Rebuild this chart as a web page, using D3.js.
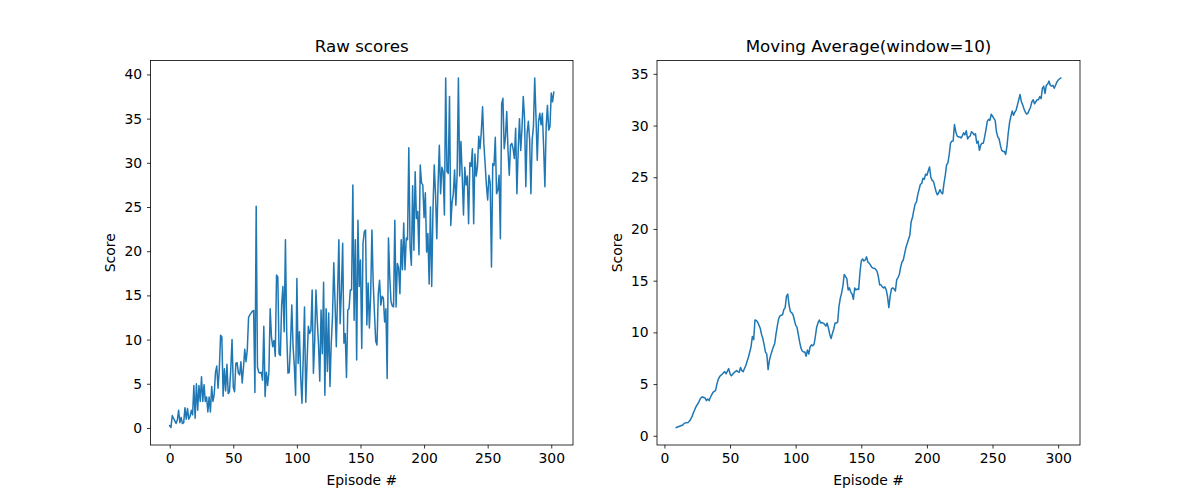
<!DOCTYPE html>
<html>
<head>
<meta charset="utf-8">
<script src="https://cdn.jsdelivr.net/npm/d3@7"></script>
<style>
  html, body { margin: 0; padding: 0; background: #fff; }
  svg { display: block; font-family: "DejaVu Sans", sans-serif; }
</style>
</head>
<body>
<svg id="fig" width="1198" height="499"></svg>
<script>
// ---- data ----
const rawStartEpisode = 0;
const rawScores = [
  0.26, 0.05, 1.4, 1.1, 0.8, 0.5, 0.9, 2.0, 0.6, 1.2,
  0.5, 0.6, 2.3, 1.0, 2.2, 1.0, 1.3, 2.0, 1.5, 4.8,
  1.1, 5.0, 2.0, 4.8, 3.0, 5.8, 3.0, 4.9, 3.0, 3.5,
  1.8, 3.5, 1.8, 4.7, 3.0, 3.8, 6.3, 7.0, 4.5, 6.6,
  10.5, 10.3, 3.6, 6.7, 4.2, 7.2, 3.9, 4.1, 6.6, 10.0,
  4.6, 4.1, 7.3, 7.4, 6.2, 6.0, 7.5, 5.1, 6.8, 8.9,
  7.5, 8.8, 12.5, 12.8, 13.0, 13.2, 13.3, 4.0, 25.1, 6.9,
  6.3, 6.2, 6.3, 5.4, 11.5, 3.55, 6.3, 4.8, 6.3, 13.5,
  10.3, 9.2, 9.9, 8.1, 17.3, 17.1, 8.4, 8.2, 13.9, 16.0,
  10.9, 21.3, 10.7, 6.2, 6.3, 9.6, 13.9, 9.2, 7.0, 3.7,
  16.9, 7.3, 10.9, 5.8, 2.8, 8.0, 13.7, 2.9, 7.5, 11.5,
  10.7, 11.0, 15.6, 6.2, 9.8, 15.6, 12.2, 9.5, 5.3, 13.35,
  8.4, 16.5, 3.7, 13.5, 6.4, 13.0, 4.7, 9.5, 12.6, 18.7,
  14.1, 9.2, 15.2, 21.3, 11.8, 15.5, 20.9, 9.6, 10.7, 5.7,
  13.35, 13.5, 15.6, 15.6, 27.5, 12.2, 21.3, 7.7, 23.5, 16.0,
  19.0, 9.0, 20.9, 22.2, 22.4, 11.65, 16.4, 11.3, 15.0, 22.4,
  16.4, 13.0, 9.8, 9.4, 15.2, 16.7, 13.9, 14.9, 14.7, 12.0,
  13.5, 5.6, 21.5, 17.1, 14.3, 13.8, 13.7, 23.5, 13.7, 18.6,
  18.1, 15.2, 21.3, 17.9, 23.2, 17.9, 21.5, 21.3, 31.7, 20.5,
  18.4, 27.4, 20.1, 29.0, 23.7, 24.5, 19.6, 29.75, 27.7, 27.5,
  23.8, 26.6, 19.9, 22.0, 16.3, 25.0, 16.0, 24.7, 29.75, 26.5,
  21.4, 27.5, 32.0, 26.5, 29.5, 29.0, 24.1, 39.6, 29.0, 28.8,
  37.5, 22.9, 25.5, 26.5, 29.2, 25.2, 28.8, 39.6, 28.5, 32.4,
  28.5, 24.1, 29.5, 27.5, 28.5, 23.1, 30.0, 29.6, 31.6, 23.1,
  31.0, 28.5, 29.6, 33.0, 31.6, 33.5, 36.35, 32.2, 29.9, 27.5,
  25.8, 28.6, 27.7, 18.2, 29.9, 29.7, 32.9, 26.5, 26.9, 28.6,
  21.4, 36.7, 37.3, 31.6, 32.9, 35.8, 31.4, 28.6, 32.0, 32.2,
  31.6, 30.5, 33.9, 26.5, 31.4, 35.0, 31.4, 33.9, 37.5, 35.0,
  27.3, 33.3, 34.7, 32.6, 26.5, 32.6, 34.1, 39.6, 35.2, 30.3,
  34.7, 35.6, 34.3, 35.6, 31.8, 27.3, 34.1, 36.5, 33.7, 34.1,
  37.9, 36.9, 38.0
];

const maStartEpisode = 9;
const movingAvg = [
  0.8, 0.85, 0.9, 0.95, 1.0, 1.05, 1.2, 1.25, 1.25, 1.28,
  1.4, 1.6, 1.85, 2.2, 2.5, 2.8, 3.0, 3.2, 3.5, 3.7,
  3.75, 3.7, 3.65, 3.4, 3.55, 3.4, 3.7, 3.95, 4.2, 4.3,
  4.4, 5.0, 5.45, 5.7, 5.85, 5.95, 6.1, 6.2, 6.0, 6.25,
  6.5, 6.0, 5.8, 5.95, 6.1, 6.2, 6.3, 6.2, 6.15, 6.6,
  6.3, 6.2, 6.5, 6.8, 7.2, 7.6, 8.1, 8.6, 9.6, 9.3,
  11.2, 11.15, 11.0, 10.7, 10.4, 9.8, 9.4, 8.8, 8.1, 7.9,
  6.4, 7.3, 7.8, 8.2, 8.6, 8.9, 9.8, 10.6, 11.3, 11.6,
  11.65, 11.7, 12.2, 12.4, 13.5, 13.7, 12.6, 12.0, 11.9, 11.7,
  11.2, 10.7, 10.5, 9.8, 9.1, 8.5, 8.2, 8.1, 8.1, 7.7,
  8.3, 7.9, 8.6, 8.8, 8.7, 8.85, 9.6, 10.5, 10.9, 11.2,
  10.9, 10.95, 10.9, 10.8, 10.6, 10.9, 10.4, 9.8, 9.4, 9.9,
  10.3, 10.9, 10.9, 11.0, 12.5, 13.3, 13.8, 14.5, 15.6, 15.4,
  15.2, 14.1, 14.3, 13.9, 13.7, 13.2, 14.3, 14.1, 14.2, 14.15,
  15.8, 16.9, 17.1, 16.9, 17.0, 17.3, 16.8, 16.7, 16.5, 16.3,
  16.2, 16.2, 16.1, 15.9, 15.4, 14.6, 14.6, 14.4, 14.3, 14.4,
  14.1, 13.45, 12.4, 13.5, 14.2, 14.3, 14.2, 14.0, 15.1, 15.3,
  15.6, 16.3, 16.8, 17.0, 17.6, 18.2, 18.6, 19.0, 19.4, 20.7,
  21.1, 21.8, 22.4, 22.6, 23.3, 23.8, 24.3, 24.4, 24.9, 24.8,
  25.3, 25.2, 25.6, 26.0, 25.0, 24.7, 24.6, 24.1, 23.6, 23.3,
  23.5, 23.8, 23.5, 23.4, 24.4, 25.2, 26.2, 26.4, 27.2, 28.3,
  28.5, 28.5, 30.1, 29.4, 29.0, 28.9, 28.9, 28.8, 29.0, 29.3,
  29.1, 29.5, 28.7, 28.9, 29.0, 29.4, 29.3, 29.1, 29.2, 28.3,
  28.5, 27.6, 28.1, 28.3, 28.3, 28.9, 29.6, 30.4, 30.6, 30.5,
  31.1, 30.9, 30.7, 30.5, 29.4, 28.9, 28.7, 28.1, 27.6, 27.5,
  27.5, 27.2, 28.0, 29.3, 30.3, 30.9, 31.4, 31.0, 31.3, 31.5,
  32.0, 32.5, 33.0, 32.3, 32.0, 31.6, 31.3, 31.1, 31.2, 31.5,
  31.8, 32.3, 32.5, 32.1, 32.3, 32.5, 32.5, 32.8, 32.6, 33.6,
  33.8, 33.1, 33.9, 34.0, 34.3, 33.9, 33.8, 33.9, 33.6, 33.9,
  34.2, 34.4, 34.5, 34.6
];

const xTicks = [0, 50, 100, 150, 200, 250, 300];
const rawYTicks = [0, 5, 10, 15, 20, 25, 30, 35, 40];
const maYTicks = [0, 5, 10, 15, 20, 25, 30, 35];
const titles = ["Raw scores", "Moving Average(window=10)"];
const xLabel = "Episode #";
const yLabel = "Score";

// ---- drawing ----
const svg = d3.select("#fig");
const lineColor = "#1f77b4";
const fontTick = 13.9, fontLabel = 13.9, fontTitle = 16.7;

function panel(opts) {
  const { left, right, top, bottom, xs, ys, yticks, title, ylabelX } = opts;
  const pts = opts.values.map((v, i) => [opts.start + i, v]);
  const xExt = d3.extent(pts, d => d[0]);
  const yExt = d3.extent(pts, d => d[1]);
  const xm = (xExt[1] - xExt[0]) * 0.05, ym = (yExt[1] - yExt[0]) * 0.05;
  const x = d3.scaleLinear().domain([xExt[0] - xm, xExt[1] + xm]).range([left, right]);
  const y = d3.scaleLinear().domain([yExt[0] - ym, yExt[1] + ym]).range([bottom, top]);

  const g = svg.append("g");

  // line
  g.append("path")
    .datum(pts)
    .attr("fill", "none")
    .attr("stroke", lineColor)
    .attr("stroke-width", 1.5)
    .attr("stroke-linejoin", "round")
    .attr("stroke-linecap", "square")
    .attr("d", d3.line().x(d => x(d[0])).y(d => y(d[1])));

  // axes
  const xa = g.append("g").attr("transform", `translate(0,${bottom})`)
    .call(d3.axisBottom(x).tickValues(xTicks).tickSize(3.5).tickPadding(4.9).tickFormat(d3.format("d")));
  const ya = g.append("g").attr("transform", `translate(${left},0)`)
    .call(d3.axisLeft(y).tickValues(yticks).tickSize(3.5).tickPadding(4.9).tickFormat(d3.format("d")));
  [xa, ya].forEach(a => {
    a.select(".domain").remove();
    a.selectAll(".tick line").attr("stroke", "#000").attr("stroke-width", 0.8);
    a.selectAll(".tick text").attr("fill", "#000").style("font-size", fontTick + "px")
      .style("font-family", "DejaVu Sans, sans-serif");
  });

  // frame
  g.append("rect")
    .attr("x", left).attr("y", top)
    .attr("width", right - left).attr("height", bottom - top)
    .attr("fill", "none").attr("stroke", "#000").attr("stroke-width", 0.8);

  // title
  g.append("text")
    .attr("x", (left + right) / 2).attr("y", top - 8.5)
    .attr("text-anchor", "middle")
    .style("font-size", fontTitle + "px")
    .text(title);

  // x label
  g.append("text")
    .attr("x", (left + right) / 2).attr("y", 485)
    .attr("text-anchor", "middle")
    .style("font-size", fontLabel + "px")
    .text(xLabel);

  // y label
  g.append("text")
    .attr("transform", `translate(${ylabelX},${(top + bottom) / 2}) rotate(-90)`)
    .attr("text-anchor", "middle")
    .attr("dy", "0.35em")
    .style("font-size", fontLabel + "px")
    .text(yLabel);
}

panel({ left: 150.5, right: 573, top: 60.5, bottom: 445, values: rawScores, start: rawStartEpisode,
        yticks: rawYTicks, title: titles[0], ylabelX: 110 });
panel({ left: 657, right: 1080, top: 60.5, bottom: 445, values: movingAvg, start: maStartEpisode,
        yticks: maYTicks, title: titles[1], ylabelX: 617 });
</script>
</body>
</html>
